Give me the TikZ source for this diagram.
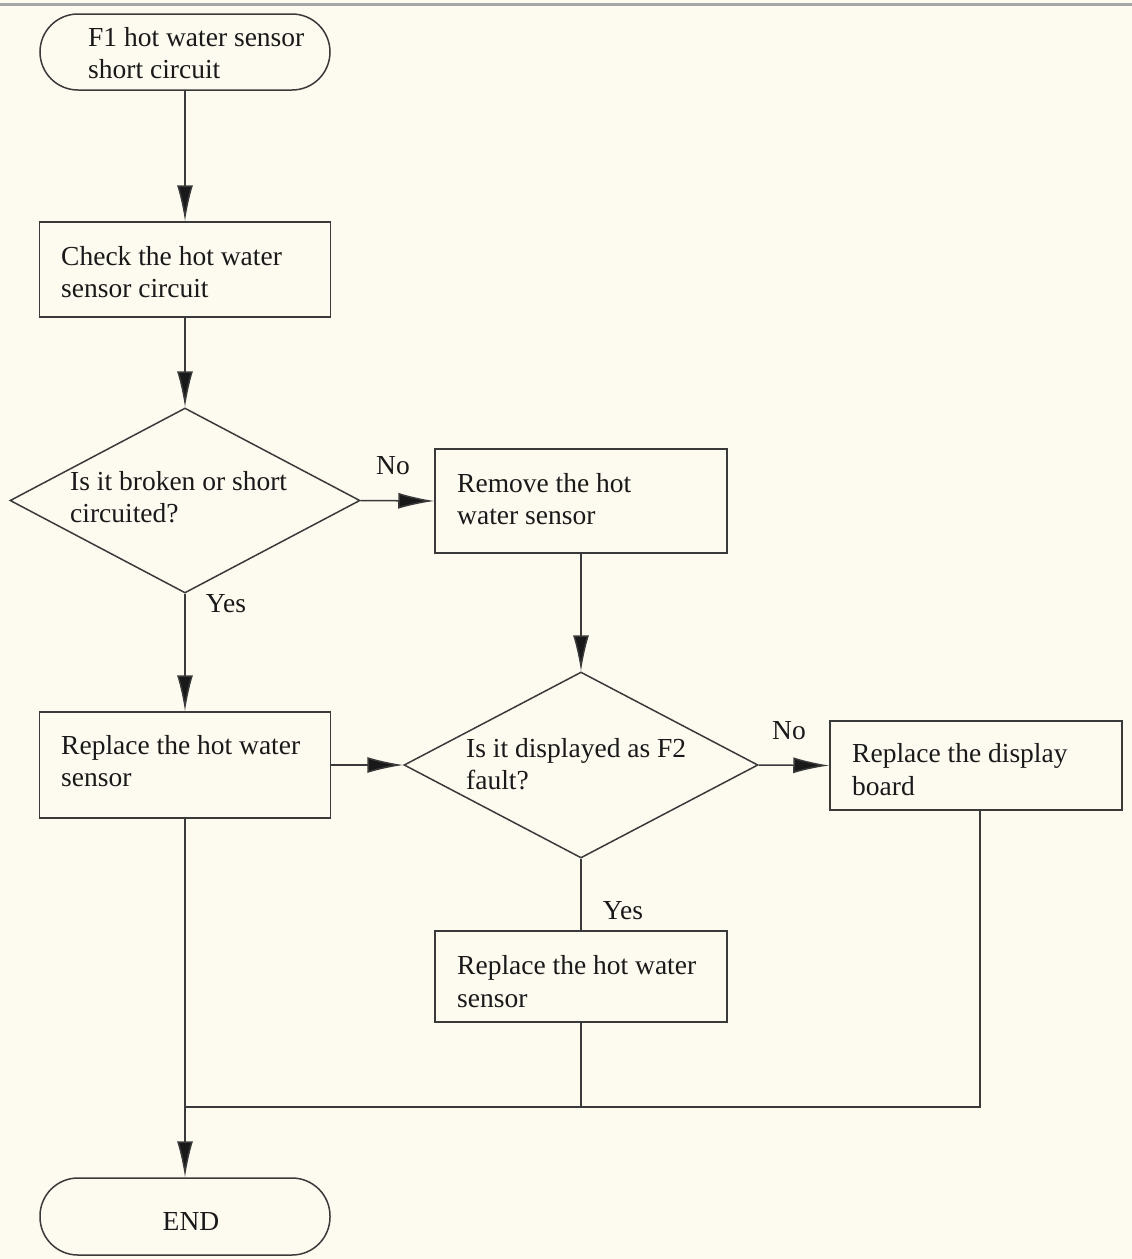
\documentclass[tikz,border=0pt]{standalone}
\usepackage{fontspec}
\setmainfont{Liberation Serif}
\usetikzlibrary{arrows.meta,shapes.geometric}
\definecolor{bgcream}{HTML}{FDFAF0}
\definecolor{ink}{HTML}{3A3A3A}
\begin{document}
\begin{tikzpicture}[x=1pt,y=-1pt,
  every node/.style={font=\fontsize{27.5}{32.5}\selectfont, text=black!90},
  shp/.style={draw=ink, line width=1.5pt, inner sep=0pt},
  box/.style={shp, rectangle},
  term/.style={shp, rectangle, rounded corners=38pt},
  dia/.style={shp, diamond},
  txt/.style={align=left, inner sep=0pt, anchor=west},
  flow/.style={draw=ink, line width=1.5pt},
  arr/.style={flow, -{Latex[length=36pt,width=16pt,fill=black!90]}},
  lbl/.style={inner sep=0pt}
]
\fill[bgcream] (0,0) rectangle (1132,1259);
\useasboundingbox (0,0) rectangle (1132,1259);
\draw[gray!70, line width=3pt] (0,4) -- (1132,4);

% start
\node[term, minimum width=290pt, minimum height=76pt] (start) at (185,52) {};
\node[txt] (startt) at (88,53) {F1 hot water sensor\\short circuit};
% check box
\node[box, minimum width=291pt, minimum height=95pt] (check) at (185,269.5) {};
\node[txt] (checkt) at (61,272) {Check the hot water\\sensor circuit};
% diamond 1
\node[dia, minimum width=350pt, minimum height=185pt] (d1) at (185,500.5) {};
\node[txt] (d1t) at (70,497) {Is it broken or short\\circuited?};
% remove box
\node[box, minimum width=292pt, minimum height=104pt] (remove) at (581,501) {};
\node[txt] (removet) at (457,499) {Remove the hot\\water sensor};
% diamond 2
\node[dia, minimum width=354pt, minimum height=186pt] (d2) at (581,765) {};
\node[txt] (d2t) at (466,764) {Is it displayed as F2\\fault?};
% replace sensor (left)
\node[box, minimum width=291pt, minimum height=106pt] (rep1) at (185,765) {};
\node[txt] (rep1t) at (61,761) {Replace the hot water\\sensor};
% replace display board
\node[box, minimum width=292pt, minimum height=89pt] (disp) at (976,765.5) {};
\node[txt] (dispt) at (852,769.5) {Replace the display\\board};
% replace sensor (bottom)
\node[box, minimum width=292pt, minimum height=91pt] (rep2) at (581,976.5) {};
\node[txt] (rep2t) at (457,981.5) {Replace the hot water\\sensor};
% end
\node[term, minimum width=290pt, minimum height=77pt] (fin) at (185,1216.5) {};
\node[lbl] (fint) at (191,1222) {END};

% junction coordinates
\coordinate (jl) at (185,1107);
\coordinate (jm) at (581,1107);
\coordinate (jr) at (980,1107);

% connectors
\draw[arr] (start.south) -- (check.north);
\draw[arr] (check.south) -- (d1.north);
\draw[arr] (d1.east) -- (remove.west);
\draw[arr] (d1.south) -- (rep1.north);
\draw[arr] (remove.south) -- (d2.north);
\draw[arr] (rep1.east) -- (d2.west);
\draw[arr] (d2.east) -- (disp.west);
\draw[flow] (d2.south) -- (rep2.north);
\draw[flow] (rep2.south) -- (jm);
\draw[flow] (disp.south -| jr) -- (jr) -- (jl);
\draw[arr] (rep1.south) -- (fin.north);

% labels
\node[lbl] (no1) at (393,466) {No};
\node[lbl] (yes1) at (226,604) {Yes};
\node[lbl] (no2) at (789,731) {No};
\node[lbl] (yes2) at (623,911) {Yes};
\end{tikzpicture}
\end{document}
